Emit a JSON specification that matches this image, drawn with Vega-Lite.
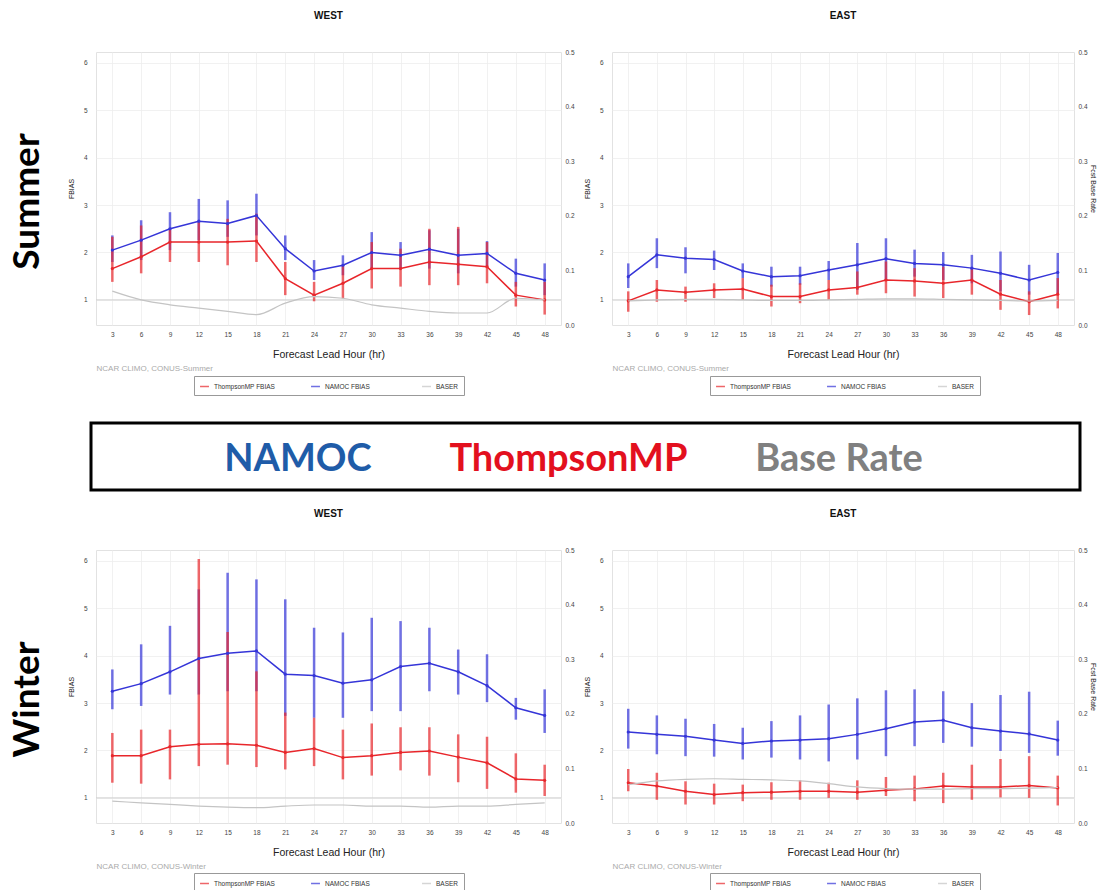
{
  "$schema": "https://vega.github.io/schema/vega-lite/v6.json",
  "background": "white",
  "padding": {"left": 0, "top": 10, "right": 0, "bottom": 0},
  "config": {
    "font": "Liberation Sans",
    "view": {"stroke": "#e2e2e2"},
    "title": {"font": "Liberation Sans", "fontSize": 10, "fontWeight": "bold", "color": "#111111", "offset": 28},
    "axis": {"labelFont": "Liberation Sans", "titleFont": "Liberation Sans", "labelFontSize": 6.5, "labelColor": "#444444", "titleColor": "#222222", "titleFontWeight": "normal", "ticks": false, "domain": false, "gridColor": "#eeeeee", "gridWidth": 0.8, "minExtent": 0},
    "axisX": {"labelPadding": 6, "titlePadding": 12, "titleFontSize": 10.5, "labelAngle": 0},
    "axisY": {"titleFontSize": 7, "labelPadding": 9, "titlePadding": 9}
  },
  "datasets": {
    "fbias": [
      {"season":"Summer","region":"WEST","model":"NAMOC FBIAS","hour":3,"fbias":2.05,"lo":1.80,"hi":2.36},
      {"season":"Summer","region":"WEST","model":"NAMOC FBIAS","hour":6,"fbias":2.26,"lo":1.84,"hi":2.68},
      {"season":"Summer","region":"WEST","model":"NAMOC FBIAS","hour":9,"fbias":2.50,"lo":2.05,"hi":2.85},
      {"season":"Summer","region":"WEST","model":"NAMOC FBIAS","hour":12,"fbias":2.66,"lo":2.26,"hi":3.13},
      {"season":"Summer","region":"WEST","model":"NAMOC FBIAS","hour":15,"fbias":2.61,"lo":2.33,"hi":3.10},
      {"season":"Summer","region":"WEST","model":"NAMOC FBIAS","hour":18,"fbias":2.78,"lo":2.36,"hi":3.24},
      {"season":"Summer","region":"WEST","model":"NAMOC FBIAS","hour":21,"fbias":2.08,"lo":1.84,"hi":2.36},
      {"season":"Summer","region":"WEST","model":"NAMOC FBIAS","hour":24,"fbias":1.61,"lo":1.42,"hi":1.84},
      {"season":"Summer","region":"WEST","model":"NAMOC FBIAS","hour":27,"fbias":1.73,"lo":1.52,"hi":1.94},
      {"season":"Summer","region":"WEST","model":"NAMOC FBIAS","hour":30,"fbias":2.00,"lo":1.66,"hi":2.43},
      {"season":"Summer","region":"WEST","model":"NAMOC FBIAS","hour":33,"fbias":1.94,"lo":1.66,"hi":2.22},
      {"season":"Summer","region":"WEST","model":"NAMOC FBIAS","hour":36,"fbias":2.07,"lo":1.66,"hi":2.47},
      {"season":"Summer","region":"WEST","model":"NAMOC FBIAS","hour":39,"fbias":1.94,"lo":1.56,"hi":2.50},
      {"season":"Summer","region":"WEST","model":"NAMOC FBIAS","hour":42,"fbias":1.98,"lo":1.70,"hi":2.24},
      {"season":"Summer","region":"WEST","model":"NAMOC FBIAS","hour":45,"fbias":1.56,"lo":1.28,"hi":1.87},
      {"season":"Summer","region":"WEST","model":"NAMOC FBIAS","hour":48,"fbias":1.42,"lo":1.10,"hi":1.77},
      {"season":"Summer","region":"WEST","model":"ThompsonMP FBIAS","hour":3,"fbias":1.66,"lo":1.38,"hi":2.33},
      {"season":"Summer","region":"WEST","model":"ThompsonMP FBIAS","hour":6,"fbias":1.91,"lo":1.56,"hi":2.57},
      {"season":"Summer","region":"WEST","model":"ThompsonMP FBIAS","hour":9,"fbias":2.22,"lo":1.80,"hi":2.50},
      {"season":"Summer","region":"WEST","model":"ThompsonMP FBIAS","hour":12,"fbias":2.22,"lo":1.80,"hi":2.64},
      {"season":"Summer","region":"WEST","model":"ThompsonMP FBIAS","hour":15,"fbias":2.22,"lo":1.73,"hi":2.71},
      {"season":"Summer","region":"WEST","model":"ThompsonMP FBIAS","hour":18,"fbias":2.24,"lo":1.80,"hi":2.82},
      {"season":"Summer","region":"WEST","model":"ThompsonMP FBIAS","hour":21,"fbias":1.45,"lo":1.10,"hi":1.80},
      {"season":"Summer","region":"WEST","model":"ThompsonMP FBIAS","hour":24,"fbias":1.10,"lo":0.97,"hi":1.38},
      {"season":"Summer","region":"WEST","model":"ThompsonMP FBIAS","hour":27,"fbias":1.35,"lo":1.03,"hi":1.73},
      {"season":"Summer","region":"WEST","model":"ThompsonMP FBIAS","hour":30,"fbias":1.66,"lo":1.24,"hi":2.22},
      {"season":"Summer","region":"WEST","model":"ThompsonMP FBIAS","hour":33,"fbias":1.66,"lo":1.28,"hi":2.08},
      {"season":"Summer","region":"WEST","model":"ThompsonMP FBIAS","hour":36,"fbias":1.80,"lo":1.31,"hi":2.50},
      {"season":"Summer","region":"WEST","model":"ThompsonMP FBIAS","hour":39,"fbias":1.75,"lo":1.31,"hi":2.54},
      {"season":"Summer","region":"WEST","model":"ThompsonMP FBIAS","hour":42,"fbias":1.70,"lo":1.35,"hi":2.22},
      {"season":"Summer","region":"WEST","model":"ThompsonMP FBIAS","hour":45,"fbias":1.10,"lo":0.86,"hi":1.38},
      {"season":"Summer","region":"WEST","model":"ThompsonMP FBIAS","hour":48,"fbias":1.00,"lo":0.69,"hi":1.38},
      {"season":"Summer","region":"EAST","model":"NAMOC FBIAS","hour":3,"fbias":1.49,"lo":1.25,"hi":1.77},
      {"season":"Summer","region":"EAST","model":"NAMOC FBIAS","hour":6,"fbias":1.95,"lo":1.67,"hi":2.30},
      {"season":"Summer","region":"EAST","model":"NAMOC FBIAS","hour":9,"fbias":1.88,"lo":1.56,"hi":2.11},
      {"season":"Summer","region":"EAST","model":"NAMOC FBIAS","hour":12,"fbias":1.85,"lo":1.63,"hi":2.04},
      {"season":"Summer","region":"EAST","model":"NAMOC FBIAS","hour":15,"fbias":1.61,"lo":1.46,"hi":1.77},
      {"season":"Summer","region":"EAST","model":"NAMOC FBIAS","hour":18,"fbias":1.49,"lo":1.28,"hi":1.70},
      {"season":"Summer","region":"EAST","model":"NAMOC FBIAS","hour":21,"fbias":1.51,"lo":1.32,"hi":1.70},
      {"season":"Summer","region":"EAST","model":"NAMOC FBIAS","hour":24,"fbias":1.63,"lo":1.42,"hi":1.82},
      {"season":"Summer","region":"EAST","model":"NAMOC FBIAS","hour":27,"fbias":1.74,"lo":1.21,"hi":2.20},
      {"season":"Summer","region":"EAST","model":"NAMOC FBIAS","hour":30,"fbias":1.87,"lo":1.42,"hi":2.30},
      {"season":"Summer","region":"EAST","model":"NAMOC FBIAS","hour":33,"fbias":1.77,"lo":1.49,"hi":2.06},
      {"season":"Summer","region":"EAST","model":"NAMOC FBIAS","hour":36,"fbias":1.74,"lo":1.42,"hi":2.01},
      {"season":"Summer","region":"EAST","model":"NAMOC FBIAS","hour":39,"fbias":1.67,"lo":1.35,"hi":1.95},
      {"season":"Summer","region":"EAST","model":"NAMOC FBIAS","hour":42,"fbias":1.56,"lo":1.18,"hi":2.02},
      {"season":"Summer","region":"EAST","model":"NAMOC FBIAS","hour":45,"fbias":1.42,"lo":1.11,"hi":1.74},
      {"season":"Summer","region":"EAST","model":"NAMOC FBIAS","hour":48,"fbias":1.58,"lo":1.14,"hi":1.99},
      {"season":"Summer","region":"EAST","model":"ThompsonMP FBIAS","hour":3,"fbias":0.98,"lo":0.75,"hi":1.18},
      {"season":"Summer","region":"EAST","model":"ThompsonMP FBIAS","hour":6,"fbias":1.21,"lo":0.96,"hi":1.42},
      {"season":"Summer","region":"EAST","model":"ThompsonMP FBIAS","hour":9,"fbias":1.16,"lo":0.96,"hi":1.28},
      {"season":"Summer","region":"EAST","model":"ThompsonMP FBIAS","hour":12,"fbias":1.21,"lo":1.04,"hi":1.35},
      {"season":"Summer","region":"EAST","model":"ThompsonMP FBIAS","hour":15,"fbias":1.23,"lo":1.00,"hi":1.46},
      {"season":"Summer","region":"EAST","model":"ThompsonMP FBIAS","hour":18,"fbias":1.07,"lo":0.86,"hi":1.32},
      {"season":"Summer","region":"EAST","model":"ThompsonMP FBIAS","hour":21,"fbias":1.07,"lo":0.93,"hi":1.35},
      {"season":"Summer","region":"EAST","model":"ThompsonMP FBIAS","hour":24,"fbias":1.21,"lo":1.00,"hi":1.42},
      {"season":"Summer","region":"EAST","model":"ThompsonMP FBIAS","hour":27,"fbias":1.26,"lo":1.11,"hi":1.60},
      {"season":"Summer","region":"EAST","model":"ThompsonMP FBIAS","hour":30,"fbias":1.42,"lo":1.14,"hi":1.81},
      {"season":"Summer","region":"EAST","model":"ThompsonMP FBIAS","hour":33,"fbias":1.40,"lo":1.07,"hi":1.67},
      {"season":"Summer","region":"EAST","model":"ThompsonMP FBIAS","hour":36,"fbias":1.35,"lo":1.04,"hi":1.70},
      {"season":"Summer","region":"EAST","model":"ThompsonMP FBIAS","hour":39,"fbias":1.42,"lo":1.11,"hi":1.67},
      {"season":"Summer","region":"EAST","model":"ThompsonMP FBIAS","hour":42,"fbias":1.12,"lo":0.79,"hi":1.42},
      {"season":"Summer","region":"EAST","model":"ThompsonMP FBIAS","hour":45,"fbias":0.96,"lo":0.68,"hi":1.18},
      {"season":"Summer","region":"EAST","model":"ThompsonMP FBIAS","hour":48,"fbias":1.12,"lo":0.82,"hi":1.46},
      {"season":"Winter","region":"WEST","model":"NAMOC FBIAS","hour":3,"fbias":3.25,"lo":2.87,"hi":3.71},
      {"season":"Winter","region":"WEST","model":"NAMOC FBIAS","hour":6,"fbias":3.41,"lo":2.94,"hi":4.24},
      {"season":"Winter","region":"WEST","model":"NAMOC FBIAS","hour":9,"fbias":3.66,"lo":3.18,"hi":4.63},
      {"season":"Winter","region":"WEST","model":"NAMOC FBIAS","hour":12,"fbias":3.94,"lo":3.18,"hi":5.40},
      {"season":"Winter","region":"WEST","model":"NAMOC FBIAS","hour":15,"fbias":4.05,"lo":3.25,"hi":5.75},
      {"season":"Winter","region":"WEST","model":"NAMOC FBIAS","hour":18,"fbias":4.10,"lo":3.25,"hi":5.61},
      {"season":"Winter","region":"WEST","model":"NAMOC FBIAS","hour":21,"fbias":3.61,"lo":2.73,"hi":5.19},
      {"season":"Winter","region":"WEST","model":"NAMOC FBIAS","hour":24,"fbias":3.58,"lo":2.69,"hi":4.59},
      {"season":"Winter","region":"WEST","model":"NAMOC FBIAS","hour":27,"fbias":3.42,"lo":2.69,"hi":4.49},
      {"season":"Winter","region":"WEST","model":"NAMOC FBIAS","hour":30,"fbias":3.49,"lo":2.83,"hi":4.80},
      {"season":"Winter","region":"WEST","model":"NAMOC FBIAS","hour":33,"fbias":3.77,"lo":2.83,"hi":4.73},
      {"season":"Winter","region":"WEST","model":"NAMOC FBIAS","hour":36,"fbias":3.84,"lo":3.25,"hi":4.59},
      {"season":"Winter","region":"WEST","model":"NAMOC FBIAS","hour":39,"fbias":3.66,"lo":3.18,"hi":4.13},
      {"season":"Winter","region":"WEST","model":"NAMOC FBIAS","hour":42,"fbias":3.37,"lo":3.02,"hi":4.03},
      {"season":"Winter","region":"WEST","model":"NAMOC FBIAS","hour":45,"fbias":2.90,"lo":2.65,"hi":3.11},
      {"season":"Winter","region":"WEST","model":"NAMOC FBIAS","hour":48,"fbias":2.74,"lo":2.37,"hi":3.29},
      {"season":"Winter","region":"WEST","model":"ThompsonMP FBIAS","hour":3,"fbias":1.89,"lo":1.32,"hi":2.37},
      {"season":"Winter","region":"WEST","model":"ThompsonMP FBIAS","hour":6,"fbias":1.89,"lo":1.30,"hi":2.44},
      {"season":"Winter","region":"WEST","model":"ThompsonMP FBIAS","hour":9,"fbias":2.08,"lo":1.39,"hi":2.44},
      {"season":"Winter","region":"WEST","model":"ThompsonMP FBIAS","hour":12,"fbias":2.13,"lo":1.67,"hi":6.04},
      {"season":"Winter","region":"WEST","model":"ThompsonMP FBIAS","hour":15,"fbias":2.14,"lo":1.70,"hi":4.50},
      {"season":"Winter","region":"WEST","model":"ThompsonMP FBIAS","hour":18,"fbias":2.11,"lo":1.65,"hi":3.67},
      {"season":"Winter","region":"WEST","model":"ThompsonMP FBIAS","hour":21,"fbias":1.96,"lo":1.60,"hi":2.80},
      {"season":"Winter","region":"WEST","model":"ThompsonMP FBIAS","hour":24,"fbias":2.04,"lo":1.67,"hi":2.69},
      {"season":"Winter","region":"WEST","model":"ThompsonMP FBIAS","hour":27,"fbias":1.85,"lo":1.39,"hi":2.44},
      {"season":"Winter","region":"WEST","model":"ThompsonMP FBIAS","hour":30,"fbias":1.89,"lo":1.47,"hi":2.57},
      {"season":"Winter","region":"WEST","model":"ThompsonMP FBIAS","hour":33,"fbias":1.96,"lo":1.58,"hi":2.49},
      {"season":"Winter","region":"WEST","model":"ThompsonMP FBIAS","hour":36,"fbias":1.99,"lo":1.47,"hi":2.49},
      {"season":"Winter","region":"WEST","model":"ThompsonMP FBIAS","hour":39,"fbias":1.86,"lo":1.33,"hi":2.34},
      {"season":"Winter","region":"WEST","model":"ThompsonMP FBIAS","hour":42,"fbias":1.74,"lo":1.19,"hi":2.29},
      {"season":"Winter","region":"WEST","model":"ThompsonMP FBIAS","hour":45,"fbias":1.40,"lo":1.11,"hi":1.94},
      {"season":"Winter","region":"WEST","model":"ThompsonMP FBIAS","hour":48,"fbias":1.37,"lo":1.04,"hi":1.70},
      {"season":"Winter","region":"EAST","model":"NAMOC FBIAS","hour":3,"fbias":2.39,"lo":2.04,"hi":2.88},
      {"season":"Winter","region":"EAST","model":"NAMOC FBIAS","hour":6,"fbias":2.34,"lo":1.92,"hi":2.74},
      {"season":"Winter","region":"EAST","model":"NAMOC FBIAS","hour":9,"fbias":2.30,"lo":1.88,"hi":2.67},
      {"season":"Winter","region":"EAST","model":"NAMOC FBIAS","hour":12,"fbias":2.22,"lo":1.87,"hi":2.56},
      {"season":"Winter","region":"EAST","model":"NAMOC FBIAS","hour":15,"fbias":2.15,"lo":1.81,"hi":2.48},
      {"season":"Winter","region":"EAST","model":"NAMOC FBIAS","hour":18,"fbias":2.20,"lo":1.85,"hi":2.62},
      {"season":"Winter","region":"EAST","model":"NAMOC FBIAS","hour":21,"fbias":2.22,"lo":1.81,"hi":2.74},
      {"season":"Winter","region":"EAST","model":"NAMOC FBIAS","hour":24,"fbias":2.25,"lo":1.77,"hi":2.97},
      {"season":"Winter","region":"EAST","model":"NAMOC FBIAS","hour":27,"fbias":2.34,"lo":1.81,"hi":3.10},
      {"season":"Winter","region":"EAST","model":"NAMOC FBIAS","hour":30,"fbias":2.46,"lo":1.88,"hi":3.27},
      {"season":"Winter","region":"EAST","model":"NAMOC FBIAS","hour":33,"fbias":2.60,"lo":2.09,"hi":3.29},
      {"season":"Winter","region":"EAST","model":"NAMOC FBIAS","hour":36,"fbias":2.64,"lo":2.16,"hi":3.25},
      {"season":"Winter","region":"EAST","model":"NAMOC FBIAS","hour":39,"fbias":2.48,"lo":2.08,"hi":3.00},
      {"season":"Winter","region":"EAST","model":"NAMOC FBIAS","hour":42,"fbias":2.41,"lo":1.99,"hi":3.17},
      {"season":"Winter","region":"EAST","model":"NAMOC FBIAS","hour":45,"fbias":2.35,"lo":1.95,"hi":3.24},
      {"season":"Winter","region":"EAST","model":"NAMOC FBIAS","hour":48,"fbias":2.22,"lo":1.89,"hi":2.63},
      {"season":"Winter","region":"EAST","model":"ThompsonMP FBIAS","hour":3,"fbias":1.32,"lo":1.14,"hi":1.61},
      {"season":"Winter","region":"EAST","model":"ThompsonMP FBIAS","hour":6,"fbias":1.25,"lo":0.96,"hi":1.53},
      {"season":"Winter","region":"EAST","model":"ThompsonMP FBIAS","hour":9,"fbias":1.14,"lo":0.86,"hi":1.35},
      {"season":"Winter","region":"EAST","model":"ThompsonMP FBIAS","hour":12,"fbias":1.07,"lo":0.86,"hi":1.30},
      {"season":"Winter","region":"EAST","model":"ThompsonMP FBIAS","hour":15,"fbias":1.11,"lo":0.93,"hi":1.28},
      {"season":"Winter","region":"EAST","model":"ThompsonMP FBIAS","hour":18,"fbias":1.12,"lo":0.96,"hi":1.33},
      {"season":"Winter","region":"EAST","model":"ThompsonMP FBIAS","hour":21,"fbias":1.14,"lo":0.96,"hi":1.37},
      {"season":"Winter","region":"EAST","model":"ThompsonMP FBIAS","hour":24,"fbias":1.14,"lo":1.00,"hi":1.32},
      {"season":"Winter","region":"EAST","model":"ThompsonMP FBIAS","hour":27,"fbias":1.12,"lo":0.96,"hi":1.37},
      {"season":"Winter","region":"EAST","model":"ThompsonMP FBIAS","hour":30,"fbias":1.16,"lo":1.04,"hi":1.44},
      {"season":"Winter","region":"EAST","model":"ThompsonMP FBIAS","hour":33,"fbias":1.19,"lo":0.93,"hi":1.47},
      {"season":"Winter","region":"EAST","model":"ThompsonMP FBIAS","hour":36,"fbias":1.25,"lo":0.89,"hi":1.53},
      {"season":"Winter","region":"EAST","model":"ThompsonMP FBIAS","hour":39,"fbias":1.23,"lo":0.96,"hi":1.70},
      {"season":"Winter","region":"EAST","model":"ThompsonMP FBIAS","hour":42,"fbias":1.23,"lo":1.01,"hi":1.82},
      {"season":"Winter","region":"EAST","model":"ThompsonMP FBIAS","hour":45,"fbias":1.26,"lo":1.00,"hi":1.88},
      {"season":"Winter","region":"EAST","model":"ThompsonMP FBIAS","hour":48,"fbias":1.21,"lo":0.84,"hi":1.47}
    ],
    "baser": [
      {"season":"Summer","region":"WEST","hour":3,"baser":0.062},{"season":"Summer","region":"WEST","hour":6,"baser":0.046},{"season":"Summer","region":"WEST","hour":9,"baser":0.037},{"season":"Summer","region":"WEST","hour":12,"baser":0.031},{"season":"Summer","region":"WEST","hour":15,"baser":0.025},{"season":"Summer","region":"WEST","hour":18,"baser":0.019},{"season":"Summer","region":"WEST","hour":21,"baser":0.040},{"season":"Summer","region":"WEST","hour":24,"baser":0.052},{"season":"Summer","region":"WEST","hour":27,"baser":0.049},{"season":"Summer","region":"WEST","hour":30,"baser":0.037},{"season":"Summer","region":"WEST","hour":33,"baser":0.031},{"season":"Summer","region":"WEST","hour":36,"baser":0.025},{"season":"Summer","region":"WEST","hour":39,"baser":0.022},{"season":"Summer","region":"WEST","hour":42,"baser":0.022},{"season":"Summer","region":"WEST","hour":45,"baser":0.049},{"season":"Summer","region":"WEST","hour":48,"baser":0.046},
      {"season":"Summer","region":"EAST","hour":3,"baser":0.044},{"season":"Summer","region":"EAST","hour":6,"baser":0.046},{"season":"Summer","region":"EAST","hour":9,"baser":0.047},{"season":"Summer","region":"EAST","hour":12,"baser":0.047},{"season":"Summer","region":"EAST","hour":15,"baser":0.046},{"season":"Summer","region":"EAST","hour":18,"baser":0.045},{"season":"Summer","region":"EAST","hour":21,"baser":0.045},{"season":"Summer","region":"EAST","hour":24,"baser":0.046},{"season":"Summer","region":"EAST","hour":27,"baser":0.047},{"season":"Summer","region":"EAST","hour":30,"baser":0.048},{"season":"Summer","region":"EAST","hour":33,"baser":0.048},{"season":"Summer","region":"EAST","hour":36,"baser":0.047},{"season":"Summer","region":"EAST","hour":39,"baser":0.046},{"season":"Summer","region":"EAST","hour":42,"baser":0.045},{"season":"Summer","region":"EAST","hour":45,"baser":0.044},{"season":"Summer","region":"EAST","hour":48,"baser":0.045},
      {"season":"Winter","region":"WEST","hour":3,"baser":0.040},{"season":"Winter","region":"WEST","hour":6,"baser":0.037},{"season":"Winter","region":"WEST","hour":9,"baser":0.034},{"season":"Winter","region":"WEST","hour":12,"baser":0.031},{"season":"Winter","region":"WEST","hour":15,"baser":0.029},{"season":"Winter","region":"WEST","hour":18,"baser":0.028},{"season":"Winter","region":"WEST","hour":21,"baser":0.031},{"season":"Winter","region":"WEST","hour":24,"baser":0.033},{"season":"Winter","region":"WEST","hour":27,"baser":0.033},{"season":"Winter","region":"WEST","hour":30,"baser":0.031},{"season":"Winter","region":"WEST","hour":33,"baser":0.031},{"season":"Winter","region":"WEST","hour":36,"baser":0.029},{"season":"Winter","region":"WEST","hour":39,"baser":0.031},{"season":"Winter","region":"WEST","hour":42,"baser":0.031},{"season":"Winter","region":"WEST","hour":45,"baser":0.034},{"season":"Winter","region":"WEST","hour":48,"baser":0.037},
      {"season":"Winter","region":"EAST","hour":3,"baser":0.070},{"season":"Winter","region":"EAST","hour":6,"baser":0.077},{"season":"Winter","region":"EAST","hour":9,"baser":0.080},{"season":"Winter","region":"EAST","hour":12,"baser":0.081},{"season":"Winter","region":"EAST","hour":15,"baser":0.080},{"season":"Winter","region":"EAST","hour":18,"baser":0.079},{"season":"Winter","region":"EAST","hour":21,"baser":0.077},{"season":"Winter","region":"EAST","hour":24,"baser":0.072},{"season":"Winter","region":"EAST","hour":27,"baser":0.066},{"season":"Winter","region":"EAST","hour":30,"baser":0.063},{"season":"Winter","region":"EAST","hour":33,"baser":0.062},{"season":"Winter","region":"EAST","hour":36,"baser":0.062},{"season":"Winter","region":"EAST","hour":39,"baser":0.063},{"season":"Winter","region":"EAST","hour":42,"baser":0.063},{"season":"Winter","region":"EAST","hour":45,"baser":0.064},{"season":"Winter","region":"EAST","hour":48,"baser":0.065}
    ],
    "banner": [{"label": "NAMOC"}, {"label": "ThompsonMP"}, {"label": "Base Rate"}]
  },
  "columns": 1,
  "align": "none",
  "spacing": 16,
  "resolve": {"scale": {"color": "independent"}, "legend": {"color": "independent"}},
  "concat": [
    {
      "columns": 1,
      "align": "none",
      "spacing": 25,
      "resolve": {"scale": {"color": "independent"}, "legend": {"color": "independent"}},
      "concat": [
        {
          "spacing": 7,
          "resolve": {"scale": {"color": "independent"}, "legend": {"color": "independent"}},
          "hconcat": [
            {
              "width": 59, "height": 273, "view": {"stroke": null},
              "data": {"values": [{"season": "Summer"}]},
              "mark": {"type": "text", "angle": 270, "font": "Lato", "fontSize": 37, "fontWeight": "bold", "color": "#000000", "dx": -13, "dy": -2},
              "encoding": {"text": {"field": "season"}}
            },
            {
              "title": {"text": "WEST"},
              "width": 465, "height": 273,
              "layer": [
                {
                  "data": {"name": "fbias"},
                  "transform": [{"filter": "datum.season == 'Summer' && datum.region == 'WEST'"}],
                  "layer": [
                    {"data": {"values": [{"ref": 1}]}, "mark": {"type": "rule", "color": "#d0d0d0", "strokeWidth": 1},
                     "encoding": {"y": {"field": "ref", "type": "quantitative", "scale": {"domain": [0.47, 6.23], "nice": false, "zero": false}, "axis": {"values": [1,2,3,4,5,6], "title": "FBIAS", "grid": true}}}},
                    {"mark": {"type": "rule", "strokeWidth": 2.5, "opacity": 0.7},
                     "encoding": {
                       "x": {"field": "hour", "type": "quantitative", "scale": {"domain": [1.3, 49.7], "nice": false, "zero": false}, "axis": {"values": [3,6,9,12,15,18,21,24,27,30,33,36,39,42,45,48], "title": "Forecast Lead Hour (hr)", "grid": true}},
                       "y": {"field": "lo", "type": "quantitative", "scale": {"domain": [0.47, 6.23], "nice": false, "zero": false}, "axis": {"values": [1,2,3,4,5,6], "title": "FBIAS", "grid": true}},
                       "y2": {"field": "hi"},
                       "color": {"field": "model", "type": "nominal", "scale": {"domain": ["ThompsonMP FBIAS", "NAMOC FBIAS", "BASER"], "range": ["#e8262b", "#3535d8", "#c4c4c4"]}, "legend": {"orient": "none", "legendX": 98, "legendY": 324, "direction": "horizontal", "title": null, "columns": 3, "gridAlign": "all", "symbolType": "stroke", "symbolStrokeWidth": 1.5, "symbolSize": 80, "strokeColor": "#999999", "padding": 5, "labelFontSize": 6.5, "labelColor": "#333333", "columnPadding": 32}}
                     }},
                    {"mark": {"type": "line", "strokeWidth": 1.5, "point": {"size": 10, "filled": true}},
                     "encoding": {
                       "x": {"field": "hour", "type": "quantitative", "scale": {"domain": [1.3, 49.7], "nice": false, "zero": false}, "axis": {"values": [3,6,9,12,15,18,21,24,27,30,33,36,39,42,45,48], "title": "Forecast Lead Hour (hr)", "grid": true}},
                       "y": {"field": "fbias", "type": "quantitative", "scale": {"domain": [0.47, 6.23], "nice": false, "zero": false}, "axis": {"values": [1,2,3,4,5,6], "title": "FBIAS", "grid": true}},
                       "color": {"field": "model", "type": "nominal", "scale": {"domain": ["ThompsonMP FBIAS", "NAMOC FBIAS", "BASER"], "range": ["#e8262b", "#3535d8", "#c4c4c4"]}}
                     }}
                  ]
                },
                {
                  "data": {"name": "baser"},
                  "transform": [{"filter": "datum.season == 'Summer' && datum.region == 'WEST'"}],
                  "mark": {"type": "line", "interpolate": "monotone", "strokeWidth": 1.2},
                  "encoding": {
                    "x": {"field": "hour", "type": "quantitative", "scale": {"domain": [1.3, 49.7], "nice": false, "zero": false}, "axis": {"orient": "bottom", "labels": false, "grid": false, "title": "NCAR CLIMO, CONUS-Summer", "titleAnchor": "start", "titleAlign": "left", "titleFontSize": 8, "titleColor": "#aaaaaa", "titlePadding": 39}},
                    "y": {"field": "baser", "type": "quantitative", "scale": {"domain": [0, 0.5], "nice": false}, "axis": {"orient": "right", "values": [0, 0.1, 0.2, 0.3, 0.4, 0.5], "format": ".1f", "title": null, "grid": false, "labelPadding": 4}},
                    "color": {"datum": "BASER", "type": "nominal", "scale": {"domain": ["ThompsonMP FBIAS", "NAMOC FBIAS", "BASER"], "range": ["#e8262b", "#3535d8", "#c4c4c4"]}}
                  }
                }
              ],
              "resolve": {"scale": {"x": "independent", "y": "independent"}}
            },
            {
              "title": {"text": "EAST"},
              "width": 462, "height": 273,
              "layer": [
                {
                  "data": {"name": "fbias"},
                  "transform": [{"filter": "datum.season == 'Summer' && datum.region == 'EAST'"}],
                  "layer": [
                    {"data": {"values": [{"ref": 1}]}, "mark": {"type": "rule", "color": "#d0d0d0", "strokeWidth": 1},
                     "encoding": {"y": {"field": "ref", "type": "quantitative", "scale": {"domain": [0.47, 6.23], "nice": false, "zero": false}, "axis": {"values": [1,2,3,4,5,6], "title": "FBIAS", "grid": true}}}},
                    {"mark": {"type": "rule", "strokeWidth": 2.5, "opacity": 0.7},
                     "encoding": {
                       "x": {"field": "hour", "type": "quantitative", "scale": {"domain": [1.3, 49.7], "nice": false, "zero": false}, "axis": {"values": [3,6,9,12,15,18,21,24,27,30,33,36,39,42,45,48], "title": "Forecast Lead Hour (hr)", "grid": true}},
                       "y": {"field": "lo", "type": "quantitative", "scale": {"domain": [0.47, 6.23], "nice": false, "zero": false}, "axis": {"values": [1,2,3,4,5,6], "title": "FBIAS", "grid": true}},
                       "y2": {"field": "hi"},
                       "color": {"field": "model", "type": "nominal", "scale": {"domain": ["ThompsonMP FBIAS", "NAMOC FBIAS", "BASER"], "range": ["#e8262b", "#3535d8", "#c4c4c4"]}, "legend": {"orient": "none", "legendX": 98, "legendY": 324, "direction": "horizontal", "title": null, "columns": 3, "gridAlign": "all", "symbolType": "stroke", "symbolStrokeWidth": 1.5, "symbolSize": 80, "strokeColor": "#999999", "padding": 5, "labelFontSize": 6.5, "labelColor": "#333333", "columnPadding": 32}}
                     }},
                    {"mark": {"type": "line", "strokeWidth": 1.5, "point": {"size": 10, "filled": true}},
                     "encoding": {
                       "x": {"field": "hour", "type": "quantitative", "scale": {"domain": [1.3, 49.7], "nice": false, "zero": false}, "axis": {"values": [3,6,9,12,15,18,21,24,27,30,33,36,39,42,45,48], "title": "Forecast Lead Hour (hr)", "grid": true}},
                       "y": {"field": "fbias", "type": "quantitative", "scale": {"domain": [0.47, 6.23], "nice": false, "zero": false}, "axis": {"values": [1,2,3,4,5,6], "title": "FBIAS", "grid": true}},
                       "color": {"field": "model", "type": "nominal", "scale": {"domain": ["ThompsonMP FBIAS", "NAMOC FBIAS", "BASER"], "range": ["#e8262b", "#3535d8", "#c4c4c4"]}}
                     }}
                  ]
                },
                {
                  "data": {"name": "baser"},
                  "transform": [{"filter": "datum.season == 'Summer' && datum.region == 'EAST'"}],
                  "mark": {"type": "line", "interpolate": "monotone", "strokeWidth": 1.2},
                  "encoding": {
                    "x": {"field": "hour", "type": "quantitative", "scale": {"domain": [1.3, 49.7], "nice": false, "zero": false}, "axis": {"orient": "bottom", "labels": false, "grid": false, "title": "NCAR CLIMO, CONUS-Summer", "titleAnchor": "start", "titleAlign": "left", "titleFontSize": 8, "titleColor": "#aaaaaa", "titlePadding": 39}},
                    "y": {"field": "baser", "type": "quantitative", "scale": {"domain": [0, 0.5], "nice": false}, "axis": {"orient": "right", "values": [0, 0.1, 0.2, 0.3, 0.4, 0.5], "format": ".1f", "title": "Fcst Base Rate", "titleFontSize": 7, "titlePadding": 2, "grid": false, "labelPadding": 4}},
                    "color": {"datum": "BASER", "type": "nominal", "scale": {"domain": ["ThompsonMP FBIAS", "NAMOC FBIAS", "BASER"], "range": ["#e8262b", "#3535d8", "#c4c4c4"]}}
                  }
                }
              ],
              "resolve": {"scale": {"x": "independent", "y": "independent"}}
            }
          ]
        },
        {
          "spacing": 0,
          "resolve": {"scale": {"color": "independent"}, "legend": {"color": "independent"}},
          "hconcat": [
            {"width": 89, "height": 67, "view": {"stroke": null}, "data": {"values": []}, "mark": "point"},
            {
              "width": 989, "height": 67,
              "view": {"stroke": "#000000", "strokeWidth": 3, "fill": "white"},
              "data": {"name": "banner"},
              "mark": {"type": "text", "font": "Lato", "fontSize": 38, "fontWeight": "bold", "dy": 3},
              "encoding": {
                "x": {"field": "label", "type": "nominal", "sort": null, "axis": null, "scale": {"type": "point", "padding": 0.828, "align": 0.462}},
                "text": {"field": "label"},
                "color": {"field": "label", "type": "nominal", "scale": {"domain": ["NAMOC", "ThompsonMP", "Base Rate"], "range": ["#1f5ca8", "#e3101e", "#808080"]}, "legend": null}
              }
            }
          ]
        }
      ]
    },
    {
      "spacing": 7,
      "resolve": {"scale": {"color": "independent"}, "legend": {"color": "independent"}},
      "hconcat": [
        {
          "width": 59, "height": 273, "view": {"stroke": null},
          "data": {"values": [{"season": "Winter"}]},
          "mark": {"type": "text", "angle": 270, "font": "Lato", "fontSize": 37, "fontWeight": "bold", "color": "#000000", "dx": -13, "dy": -2},
          "encoding": {"text": {"field": "season"}}
        },
        {
          "title": {"text": "WEST"},
          "width": 465, "height": 273,
          "layer": [
            {
              "data": {"name": "fbias"},
              "transform": [{"filter": "datum.season == 'Winter' && datum.region == 'WEST'"}],
              "layer": [
                {"data": {"values": [{"ref": 1}]}, "mark": {"type": "rule", "color": "#d0d0d0", "strokeWidth": 1},
                 "encoding": {"y": {"field": "ref", "type": "quantitative", "scale": {"domain": [0.47, 6.23], "nice": false, "zero": false}, "axis": {"values": [1,2,3,4,5,6], "title": "FBIAS", "grid": true}}}},
                {"mark": {"type": "rule", "strokeWidth": 2.5, "opacity": 0.7},
                 "encoding": {
                   "x": {"field": "hour", "type": "quantitative", "scale": {"domain": [1.3, 49.7], "nice": false, "zero": false}, "axis": {"values": [3,6,9,12,15,18,21,24,27,30,33,36,39,42,45,48], "title": "Forecast Lead Hour (hr)", "grid": true}},
                   "y": {"field": "lo", "type": "quantitative", "scale": {"domain": [0.47, 6.23], "nice": false, "zero": false}, "axis": {"values": [1,2,3,4,5,6], "title": "FBIAS", "grid": true}},
                   "y2": {"field": "hi"},
                   "color": {"field": "model", "type": "nominal", "scale": {"domain": ["ThompsonMP FBIAS", "NAMOC FBIAS", "BASER"], "range": ["#e8262b", "#3535d8", "#c4c4c4"]}, "legend": {"orient": "none", "legendX": 98, "legendY": 323, "direction": "horizontal", "title": null, "columns": 3, "gridAlign": "all", "symbolType": "stroke", "symbolStrokeWidth": 1.5, "symbolSize": 80, "strokeColor": "#999999", "padding": 5, "labelFontSize": 6.5, "labelColor": "#333333", "columnPadding": 32}}
                 }},
                {"mark": {"type": "line", "strokeWidth": 1.5, "point": {"size": 10, "filled": true}},
                 "encoding": {
                   "x": {"field": "hour", "type": "quantitative", "scale": {"domain": [1.3, 49.7], "nice": false, "zero": false}, "axis": {"values": [3,6,9,12,15,18,21,24,27,30,33,36,39,42,45,48], "title": "Forecast Lead Hour (hr)", "grid": true}},
                   "y": {"field": "fbias", "type": "quantitative", "scale": {"domain": [0.47, 6.23], "nice": false, "zero": false}, "axis": {"values": [1,2,3,4,5,6], "title": "FBIAS", "grid": true}},
                   "color": {"field": "model", "type": "nominal", "scale": {"domain": ["ThompsonMP FBIAS", "NAMOC FBIAS", "BASER"], "range": ["#e8262b", "#3535d8", "#c4c4c4"]}}
                 }}
              ]
            },
            {
              "data": {"name": "baser"},
              "transform": [{"filter": "datum.season == 'Winter' && datum.region == 'WEST'"}],
              "mark": {"type": "line", "interpolate": "monotone", "strokeWidth": 1.2},
              "encoding": {
                "x": {"field": "hour", "type": "quantitative", "scale": {"domain": [1.3, 49.7], "nice": false, "zero": false}, "axis": {"orient": "bottom", "labels": false, "grid": false, "title": "NCAR CLIMO, CONUS-Winter", "titleAnchor": "start", "titleAlign": "left", "titleFontSize": 8, "titleColor": "#aaaaaa", "titlePadding": 39}},
                "y": {"field": "baser", "type": "quantitative", "scale": {"domain": [0, 0.5], "nice": false}, "axis": {"orient": "right", "values": [0, 0.1, 0.2, 0.3, 0.4, 0.5], "format": ".1f", "title": null, "grid": false, "labelPadding": 4}},
                "color": {"datum": "BASER", "type": "nominal", "scale": {"domain": ["ThompsonMP FBIAS", "NAMOC FBIAS", "BASER"], "range": ["#e8262b", "#3535d8", "#c4c4c4"]}}
              }
            }
          ],
          "resolve": {"scale": {"x": "independent", "y": "independent"}}
        },
        {
          "title": {"text": "EAST"},
          "width": 462, "height": 273,
          "layer": [
            {
              "data": {"name": "fbias"},
              "transform": [{"filter": "datum.season == 'Winter' && datum.region == 'EAST'"}],
              "layer": [
                {"data": {"values": [{"ref": 1}]}, "mark": {"type": "rule", "color": "#d0d0d0", "strokeWidth": 1},
                 "encoding": {"y": {"field": "ref", "type": "quantitative", "scale": {"domain": [0.47, 6.23], "nice": false, "zero": false}, "axis": {"values": [1,2,3,4,5,6], "title": "FBIAS", "grid": true}}}},
                {"mark": {"type": "rule", "strokeWidth": 2.5, "opacity": 0.7},
                 "encoding": {
                   "x": {"field": "hour", "type": "quantitative", "scale": {"domain": [1.3, 49.7], "nice": false, "zero": false}, "axis": {"values": [3,6,9,12,15,18,21,24,27,30,33,36,39,42,45,48], "title": "Forecast Lead Hour (hr)", "grid": true}},
                   "y": {"field": "lo", "type": "quantitative", "scale": {"domain": [0.47, 6.23], "nice": false, "zero": false}, "axis": {"values": [1,2,3,4,5,6], "title": "FBIAS", "grid": true}},
                   "y2": {"field": "hi"},
                   "color": {"field": "model", "type": "nominal", "scale": {"domain": ["ThompsonMP FBIAS", "NAMOC FBIAS", "BASER"], "range": ["#e8262b", "#3535d8", "#c4c4c4"]}, "legend": {"orient": "none", "legendX": 98, "legendY": 323, "direction": "horizontal", "title": null, "columns": 3, "gridAlign": "all", "symbolType": "stroke", "symbolStrokeWidth": 1.5, "symbolSize": 80, "strokeColor": "#999999", "padding": 5, "labelFontSize": 6.5, "labelColor": "#333333", "columnPadding": 32}}
                 }},
                {"mark": {"type": "line", "strokeWidth": 1.5, "point": {"size": 10, "filled": true}},
                 "encoding": {
                   "x": {"field": "hour", "type": "quantitative", "scale": {"domain": [1.3, 49.7], "nice": false, "zero": false}, "axis": {"values": [3,6,9,12,15,18,21,24,27,30,33,36,39,42,45,48], "title": "Forecast Lead Hour (hr)", "grid": true}},
                   "y": {"field": "fbias", "type": "quantitative", "scale": {"domain": [0.47, 6.23], "nice": false, "zero": false}, "axis": {"values": [1,2,3,4,5,6], "title": "FBIAS", "grid": true}},
                   "color": {"field": "model", "type": "nominal", "scale": {"domain": ["ThompsonMP FBIAS", "NAMOC FBIAS", "BASER"], "range": ["#e8262b", "#3535d8", "#c4c4c4"]}}
                 }}
              ]
            },
            {
              "data": {"name": "baser"},
              "transform": [{"filter": "datum.season == 'Winter' && datum.region == 'EAST'"}],
              "mark": {"type": "line", "interpolate": "monotone", "strokeWidth": 1.2},
              "encoding": {
                "x": {"field": "hour", "type": "quantitative", "scale": {"domain": [1.3, 49.7], "nice": false, "zero": false}, "axis": {"orient": "bottom", "labels": false, "grid": false, "title": "NCAR CLIMO, CONUS-Winter", "titleAnchor": "start", "titleAlign": "left", "titleFontSize": 8, "titleColor": "#aaaaaa", "titlePadding": 39}},
                "y": {"field": "baser", "type": "quantitative", "scale": {"domain": [0, 0.5], "nice": false}, "axis": {"orient": "right", "values": [0, 0.1, 0.2, 0.3, 0.4, 0.5], "format": ".1f", "title": "Fcst Base Rate", "titleFontSize": 7, "titlePadding": 2, "grid": false, "labelPadding": 4}},
                "color": {"datum": "BASER", "type": "nominal", "scale": {"domain": ["ThompsonMP FBIAS", "NAMOC FBIAS", "BASER"], "range": ["#e8262b", "#3535d8", "#c4c4c4"]}}
              }
            }
          ],
          "resolve": {"scale": {"x": "independent", "y": "independent"}}
        }
      ]
    }
  ]
}
